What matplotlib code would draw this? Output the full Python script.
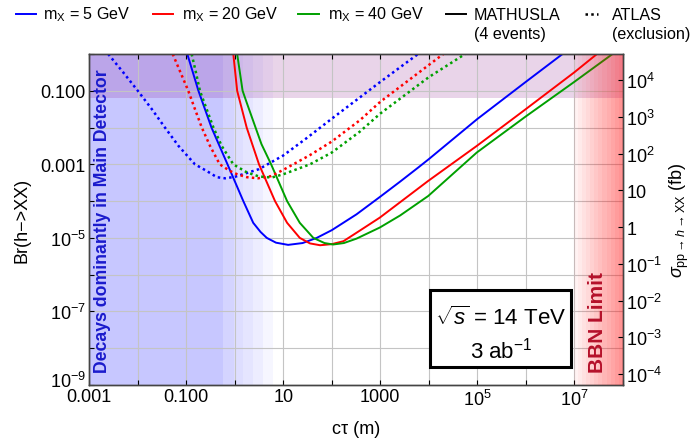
import numpy as np
import matplotlib
matplotlib.use('Agg')
import matplotlib.pyplot as plt
from matplotlib.lines import Line2D
from matplotlib.patches import Rectangle
from matplotlib.transforms import ScaledTranslation

plt.rcParams['font.family'] = ['Liberation Sans', 'DejaVu Sans']
plt.rcParams['mathtext.fontset'] = 'custom'
plt.rcParams['mathtext.rm'] = 'Liberation Sans'
plt.rcParams['mathtext.it'] = 'Liberation Sans:italic'
plt.rcParams['mathtext.bf'] = 'Liberation Sans:bold'

# ---------------- data (c tau in m, Br(h->XX)) ----------------
# MATHUSLA (4 events)
ctau_m5_math = [0.105, 0.178, 0.331, 0.708, 1.50, 2.40, 3.40, 4.57, 7.08, 12.6, 25.1, 49.0, 100, 324, 1000, 2570, 6030, 1e4, 1e5, 1e6, 5.75e6]
br_m5_math = [1, 0.1, 0.01, 1e-3, 1e-4, 2.57e-5, 1.45e-5, 1e-5, 7.41e-6, 6.46e-6, 7.24e-6, 1e-5, 1.62e-5, 4.37e-5, 1.32e-4, 3.39e-4, 8.13e-4, 1.38e-3, 1.70e-2, 0.174, 1]

ctau_m20_math = [0.933, 1.12, 1.76, 3.16, 6.76, 12.0, 21.9, 35.5, 57.5, 100, 174, 316, 977, 9770, 9.77e4, 1e6, 1e7, 2.95e7]
br_m20_math = [1, 0.1, 0.01, 1e-3, 1e-4, 2.57e-5, 1e-5, 7.08e-6, 6.31e-6, 6.76e-6, 8.13e-6, 1.35e-5, 3.55e-5, 3.55e-4, 3.16e-3, 3.16e-2, 0.316, 1]

ctau_m40_math = [1.12, 1.45, 1.76, 2.40, 3.55, 5.62, 12.0, 21.9, 41.7, 70.8, 107, 178, 324, 977, 2570, 9770, 9.77e4, 1e6, 1e7, 6.17e7]
br_m40_math = [1, 0.1, 4.79e-2, 1.51e-2, 3.55e-3, 1e-3, 1e-4, 2.57e-5, 1e-5, 7.24e-6, 6.61e-6, 7.24e-6, 9.55e-6, 1.91e-5, 4.07e-5, 1.38e-4, 2.09e-3, 2.0e-2, 0.174, 1]

# ATLAS (exclusion)
ctau_m5_atlas = [2.45e-3, 5.01e-3, 1.0e-2, 1.95e-2, 3.63e-2, 6.92e-2, 0.151, 0.263, 0.427, 0.631, 1.0, 3.16, 10, 31.6, 100, 380, 1000, 6030]
br_m5_atlas = [1, 0.316, 0.1, 3.16e-2, 1e-2, 3.16e-3, 1e-3, 6.61e-4, 4.47e-4, 4.17e-4, 4.57e-4, 7.41e-4, 1.74e-3, 5.37e-3, 1.74e-2, 6.61e-2, 0.174, 1]

ctau_m20_atlas = [5.25e-2, 7.59e-2, 0.110, 0.151, 0.209, 0.309, 0.490, 0.794, 1.12, 1.78, 3.02, 5.62, 10, 35.5, 100, 380, 1000, 1e4, 2.0e4]
br_m20_atlas = [1, 0.316, 0.1, 3.16e-2, 1e-2, 3.16e-3, 1e-3, 6.61e-4, 5.37e-4, 4.47e-4, 4.17e-4, 4.79e-4, 7.08e-4, 1.78e-3, 4.17e-3, 1.58e-2, 5.01e-2, 0.501, 1]

ctau_m40_atlas = [0.129, 0.158, 0.191, 0.263, 0.363, 0.537, 0.933, 1.78, 3.16, 5.75, 10, 35.5, 100, 380, 1000, 1e4, 5.62e4]
br_m40_atlas = [1, 0.316, 0.1, 3.16e-2, 1e-2, 3.16e-3, 1e-3, 6.03e-4, 4.68e-4, 4.37e-4, 5.37e-4, 1e-3, 2.09e-3, 7.76e-3, 2.40e-2, 0.234, 1]

sigma_h_fb = 5.08e4  # pp -> h cross section used for the right axis

# shaded regions
main_det_edges = [1e-3, 0.58, 0.98, 1.5, 2.4, 3.9, 6.0]
main_det_alphas = [0.22, 0.17, 0.13, 0.10, 0.07, 0.035]
atlas_band = [0.062, 1.0]
bbn_start = 1e7
bbn_end = 1e8

# ticks
x_decades = [1e-3, 1e-2, 1e-1, 1, 1e1, 1e2, 1e3, 1e4, 1e5, 1e6, 1e7, 1e8]
x_labels = ['0.001', '', '0.100', '', '10', '', '1000', '', '$10^5$', '', '$10^7$', '']
y_decades = [1e-9, 1e-8, 1e-7, 1e-6, 1e-5, 1e-4, 1e-3, 1e-2, 1e-1, 1]
y_labels = ['$10^{-9}$', '', '$10^{-7}$', '', '$10^{-5}$', '', '0.001', '', '0.100', '']
s_decades = [1e-4, 1e-3, 1e-2, 1e-1, 1, 10, 1e2, 1e3, 1e4]
s_labels = ['$10^{-4}$', '$10^{-3}$', '$10^{-2}$', '$10^{-1}$', '1', '10', '$10^2$', '$10^3$', '$10^4$']

BLUE = '#0000ff'
RED = '#ff0000'
GREEN = '#00a000'
FS = 13
LFS = 11.6

W, H = 692, 439
fig = plt.figure(figsize=(W / 100, H / 100), dpi=100)
L, R, T, B = 89.3, 622.7, 55, 386
ax = fig.add_axes([L / W, 1 - B / H, (R - L) / W, (B - T) / H])
ax.set_xscale('log')
ax.set_yscale('log')
ax.set_xlim(1e-3, 1e8)
ax.set_ylim(1e-9, 1)

# shading
for i in range(len(main_det_alphas)):
    ax.axvspan(main_det_edges[i], main_det_edges[i + 1], color=(0.0, 0.0, 1.0),
               alpha=main_det_alphas[i], lw=0, zorder=0)
ax.axhspan(atlas_band[0], atlas_band[1], color=(0.5, 0.0, 0.5), alpha=0.17, lw=0, zorder=0.5)
nstep = 12
lb, le = np.log10(bbn_start), np.log10(bbn_end)
for i in range(nstep):
    a = 10 ** (lb + (le - lb) * i / nstep)
    b = 10 ** (lb + (le - lb) * (i + 1) / nstep)
    ax.axvspan(a, b, color=(1.0, 0.0, 0.0), alpha=0.05 + 0.37 * i / (nstep - 1), lw=0, zorder=4)

# grid
ax.grid(True, which='major', color='#c4c4c4', lw=0.8)

# curves
lw_s = 1.4
lw_d = 1.8
dots = (0, (1, 1.3))
ax.plot(ctau_m5_math, br_m5_math, color=BLUE, lw=lw_s, zorder=3)
ax.plot(ctau_m20_math, br_m20_math, color=RED, lw=lw_s, zorder=3)
ax.plot(ctau_m40_math, br_m40_math, color=GREEN, lw=lw_s, zorder=3)
ax.plot(ctau_m5_atlas, br_m5_atlas, color=BLUE, lw=lw_d, ls=dots, zorder=3)
ax.plot(ctau_m20_atlas, br_m20_atlas, color=RED, lw=lw_d, ls=dots, zorder=3)
ax.plot(ctau_m40_atlas, br_m40_atlas, color=GREEN, lw=lw_d, ls=dots, zorder=3)

# ticks
ax.set_xticks(x_decades)
ax.set_xticklabels(x_labels)
ax.set_yticks(y_decades)
ax.set_yticklabels(y_labels)
ax.minorticks_off()
ax.tick_params(which='major', direction='in', length=3.5, width=0.8, labelsize=FS,
               top=True, right=False, pad=2.5)
for sp in ax.spines.values():
    sp.set_color('#444444')
    sp.set_linewidth(1.0)
# lift the lowest y label slightly so it clears the first x label
lab0 = ax.yaxis.get_major_ticks()[0].label1
lab0.set_transform(lab0.get_transform() + ScaledTranslation(0, 4 / 72, fig.dpi_scale_trans))

ax2 = ax.twinx()
ax2.set_yscale('log')
ax2.set_ylim(1e-9 * sigma_h_fb, 1 * sigma_h_fb)
ax2.set_yticks(s_decades)
ax2.set_yticklabels(s_labels)
ax2.minorticks_off()
ax2.tick_params(which='major', direction='in', length=3.5, width=0.8, labelsize=FS, pad=2.5)
for sp in ax2.spines.values():
    sp.set_color('#444444')
    sp.set_linewidth(1.0)

ax.set_xlabel('c\u03c4 (m)', fontsize=FS, labelpad=8)
ax.set_ylabel('Br(h\u2212>XX)', fontsize=FS, labelpad=7)
ax2.set_ylabel(r'$\sigma_{\mathrm{pp}\rightarrow h\rightarrow \mathrm{XX}}$ (fb)', fontsize=FS, labelpad=4)

# region labels
ax.text(0.024, 0.04, 'Decays dominantly in Main Detector', transform=ax.transAxes,
        rotation=90, ha='center', va='bottom', color='#1a1acc', fontsize=12.7,
        fontweight='bold', zorder=6)
ax.text(0.952, 0.04, 'BBN Limit', transform=ax.transAxes,
        rotation=90, ha='center', va='bottom', color='#b5102a', fontsize=15,
        fontweight='bold', zorder=6)

# info box
def fx(px):
    return px / W

def fy(py):
    return 1 - py / H

box = Rectangle((fx(430), fy(368)), fx(571) - fx(430), fy(291) - fy(368),
                transform=fig.transFigure, facecolor='white', edgecolor='black',
                lw=2.2, zorder=10)
fig.add_artist(box)
fig.text(fx(501), fy(318), r'$\sqrt{s}$ = 14 TeV', ha='center', va='center', fontsize=16, zorder=11)
fig.text(fx(501), fy(351), r'3 ab$^{-1}$', ha='center', va='center', fontsize=16, zorder=11)

# legend (manual)
leg_y = 15
leg_y2 = 34
entries = [
    (15.5, 35.5, BLUE, '-', 43, 'm$_{\\mathrm{X}}$ = 5 GeV', None),
    (153, 173, RED, '-', 182, 'm$_{\\mathrm{X}}$ = 20 GeV', None),
    (298, 319, GREEN, '-', 328, 'm$_{\\mathrm{X}}$ = 40 GeV', None),
    (446, 466, 'black', '-', 474, 'MATHUSLA', '(4 events)'),
    (585, 598, 'black', dots, 612, 'ATLAS', '(exclusion)'),
]
for x0, x1, c, ls, tx, t1, t2 in entries:
    fig.add_artist(Line2D([fx(x0), fx(x1)], [fy(leg_y), fy(leg_y)], color=c,
                          lw=lw_d if ls == dots else lw_s, ls=ls, transform=fig.transFigure))
    fig.text(fx(tx), fy(leg_y), t1, ha='left', va='center', fontsize=LFS)
    if t2:
        fig.text(fx(tx), fy(leg_y2), t2, ha='left', va='center', fontsize=LFS)

fig.savefig('out.png', dpi=100)
